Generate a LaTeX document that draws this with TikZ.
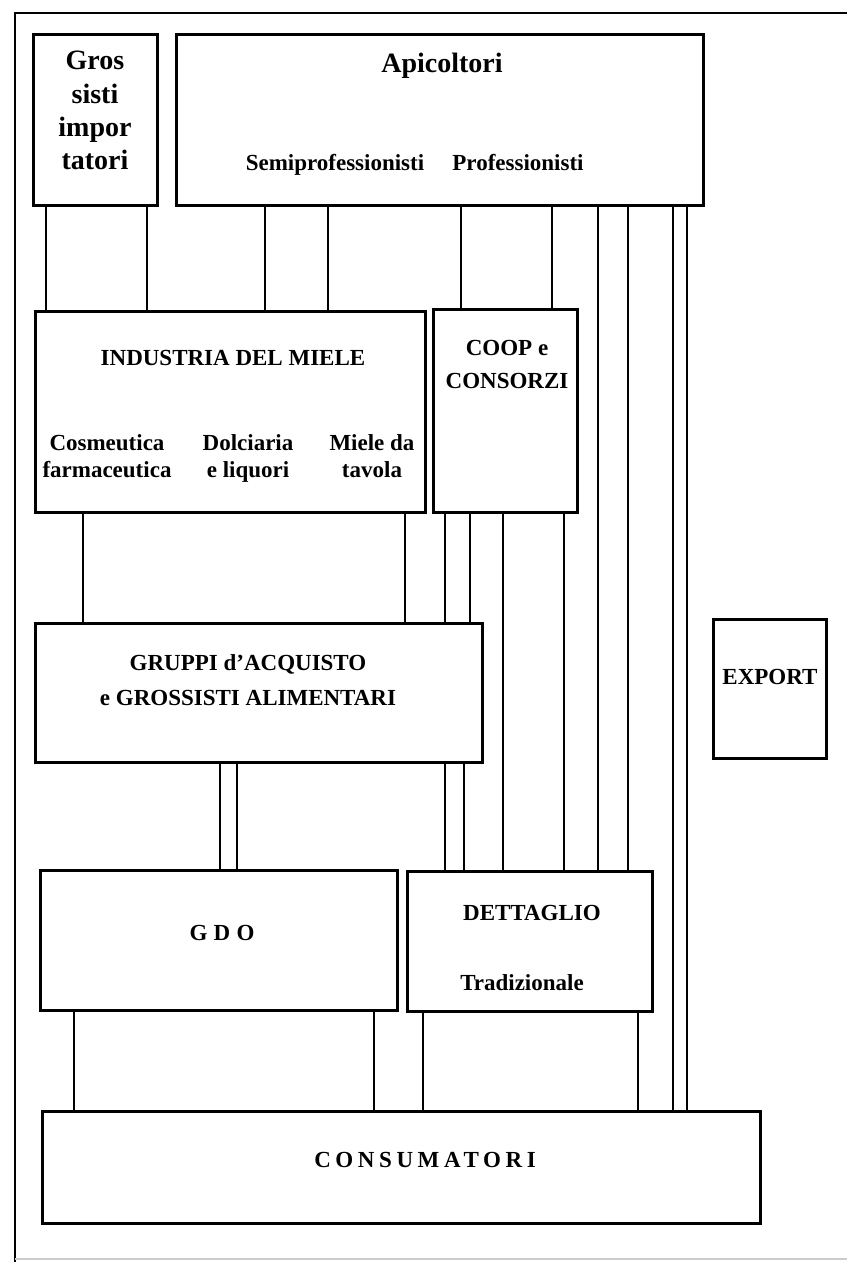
\documentclass[tikz,border=0pt]{standalone}
\usepackage{fontspec}
\setmainfont{Liberation Serif}
\usetikzlibrary{positioning}

\begin{document}
\begin{tikzpicture}[
  x=0.5pt, y=-0.5pt,
  box/.style={draw, line width=1.5pt, inner sep=0pt},
  lbl/.style={font=\bfseries\fontsize{11.5}{13.5}\selectfont, align=center, inner sep=0pt,
              execute at begin node=\strut, execute at end node=\strut},
  big/.style={lbl, font=\bfseries\fontsize{14}{16.7}\selectfont},
  link/.style={draw, line width=1pt},
]
\useasboundingbox (0,0) rectangle (847,1262);
% frame of the page
\draw[line width=1.3pt] (15,1262) -- (15,13) -- (847,13);
\draw[gray!40, line width=0.8pt] (15,1259) -- (847,1259);

% boxes
\node[box, minimum width=62pt, minimum height=85.5pt] (grs) at (95,120.5) {};
\node[box, minimum width=263.5pt, minimum height=85.5pt] (apic) at (439.5,120.5) {};
\node[box, minimum width=195pt, minimum height=100pt] (ind) at (230,412) {};
\node[box, minimum width=72pt, minimum height=101pt] (coop) at (505,411) {};
\node[box, minimum width=223.5pt, minimum height=69.5pt] (grp) at (258.5,692.5) {};
\node[box, minimum width=56.5pt, minimum height=69.5pt] (exp) at (769.5,688.5) {};
\node[box, minimum width=178.5pt, minimum height=70pt] (gdo) at (218.5,940) {};
\node[box, minimum width=122.5pt, minimum height=70pt] (det) at (529.5,941) {};
\node[box, minimum width=359pt, minimum height=56pt] (cons) at (401,1167) {};

% texts
\node[big] (grsT) at (95,115.6) {Gros\\sisti\\impor\\tatori};
\node[big] (apicT) at (442,65.6) {Apicoltori};
\node[lbl] (semi) at (335,165) {Semiprofessionisti};
\node[lbl] (prof) at (518,165) {Professionisti};
\node[lbl] (indT) at (233,360) {INDUSTRIA DEL MIELE};
\node[lbl] (cosm) at (107,460.5) {Cosmeutica\\farmaceutica};
\node[lbl] (dolc) at (248,460.5) {Dolciaria\\e liquori};
\node[lbl] (tav) at (372,460.5) {Miele da\\tavola};
\node[lbl] (coopT) at (507,368.5) {COOP e\\[3pt]CONSORZI};
\node[lbl] (grpT) at (248,684.5) {GRUPPI d'ACQUISTO\\[4pt]e GROSSISTI ALIMENTARI};
\node[lbl] (expT) at (770,679) {EXPORT};
\node[lbl] (gdoT) at (222,935) {\addfontfeatures{LetterSpace=27}GDO};
\node[lbl] (detT) at (532,915) {DETTAGLIO};
\node[lbl] (trad) at (522,985) {Tradizionale};
\node[lbl] (consT) at (425,1162) {\addfontfeatures{LetterSpace=20}CONSUMATORI};

% connectors
\foreach \from/\to/\xs in {grs/ind/{46,147}, apic/ind/{265,328}, apic/coop/{461,552},
    apic/det/{598,628}, apic/cons/{673,687}, ind/grp/{83,405}, coop/grp/{445,470},
    coop/det/{503,564}, grp/gdo/{220,237}, grp/det/{445,464}, gdo/cons/{74,374},
    det/cons/{423,638}}
  \foreach \x in \xs
    \draw[link] (\x,0 |- \from.south) -- (\x,0 |- \to.north);
\end{tikzpicture}
\end{document}
